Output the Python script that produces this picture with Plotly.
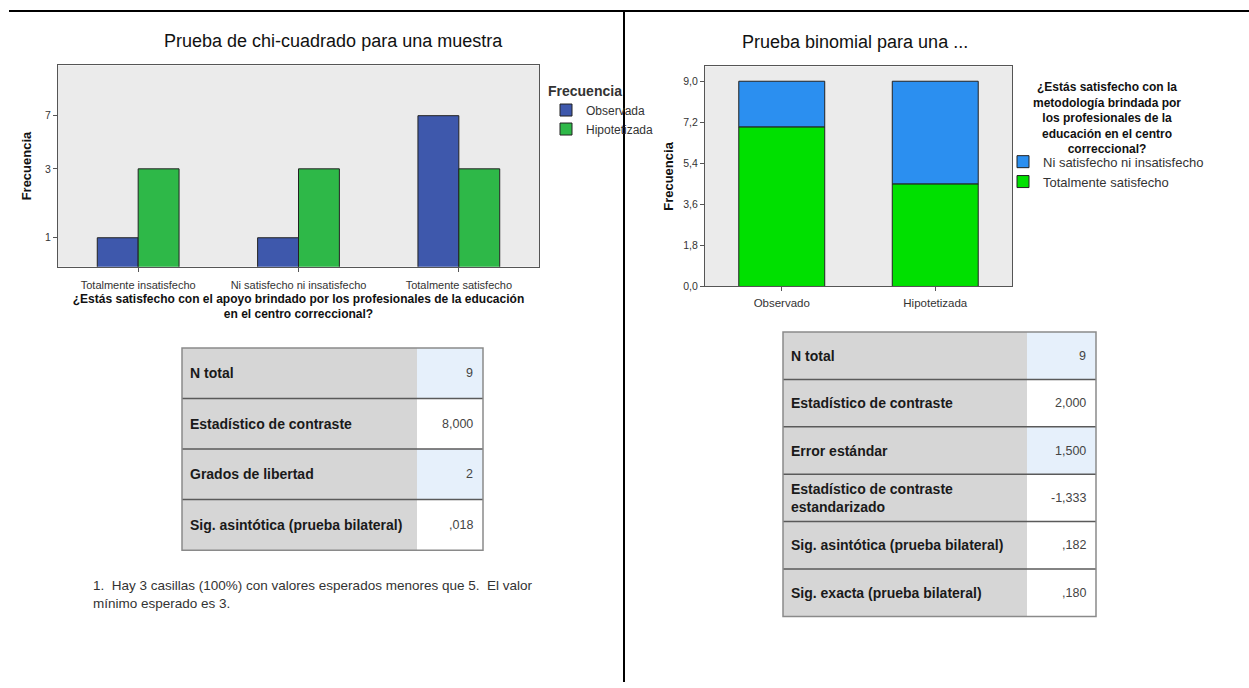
import plotly.graph_objects as go

W, H = 1249, 688
FONT = "Liberation Sans, Arial, sans-serif"

# --- datos: chi-cuadrado (izquierda)
cat_chi = ["Totalmente insatisfecho", "Ni satisfecho ni insatisfecho", "Totalmente satisfecho"]
observada = [1, 1, 7]
hipotetizada = [3, 3, 3]
ticks_chi = [1, 3, 7]

# --- datos: binomial (derecha)
cat_bin = ["Observado", "Hipotetizada"]
tot_satisfecho = [7, 4.5]
ni_satisfecho = [2, 4.5]
ticks_bin = [0, 1.8, 3.6, 5.4, 7.2, 9.0]

# --- tablas
chi_labels = ["N total", "Estadístico de contraste", "Grados de libertad",
              "Sig. asintótica (prueba bilateral)"]
chi_values = ["9", "8,000", "2", ",018"]
bin_labels = ["N total", "Estadístico de contraste", "Error estándar",
              "Estadístico de contraste<br>estandarizado",
              "Sig. asintótica (prueba bilateral)", "Sig. exacta (prueba bilateral)"]
bin_values = ["9", "2,000", "1,500", "-1,333", ",182", ",180"]

BLUE_CHI, GREEN_CHI = "#3e58ac", "#2eb848"
BLUE_BIN, GREEN_BIN = "#2b8ff0", "#00e000"
CELL_BLUE = "#e6f0fb"
LABEL_GREY = "#d6d6d6"


def px(x):
    return x / W


def py(y):
    return 1 - y / H


fig = go.Figure()

fig.add_trace(go.Bar(
    x=cat_chi, y=observada, name="Observada", xaxis="x", yaxis="y",
    marker=dict(color=BLUE_CHI, line=dict(color="#222", width=1)),
    legend="legend",
))
fig.add_trace(go.Bar(
    x=cat_chi, y=hipotetizada, name="Hipotetizada", xaxis="x", yaxis="y",
    marker=dict(color=GREEN_CHI, line=dict(color="#222", width=1)),
    legend="legend",
))

fig.add_trace(go.Bar(
    x=cat_bin, y=tot_satisfecho, name="Totalmente satisfecho",
    xaxis="x2", yaxis="y2", offsetgroup="b", width=0.56, legendrank=2,
    marker=dict(color=GREEN_BIN, line=dict(color="#222", width=1)),
    legend="legend2",
))
fig.add_trace(go.Bar(
    x=cat_bin, y=ni_satisfecho, base=tot_satisfecho, name="Ni satisfecho ni insatisfecho",
    xaxis="x2", yaxis="y2", offsetgroup="b", width=0.56, legendrank=1,
    marker=dict(color=BLUE_BIN, line=dict(color="#222", width=1)),
    legend="legend2",
))

shapes = [
    dict(type="line", xref="paper", yref="paper", x0=px(9), x1=1, y0=py(11), y1=py(11),
         line=dict(color="black", width=2)),
    dict(type="line", xref="paper", yref="paper", x0=px(624), x1=px(624), y0=py(11), y1=0,
         line=dict(color="black", width=2)),
]
annotations = []


def add_table(labels, values, fills, x0, x1, y0, split, row_h):
    for i, (lab, val, fill) in enumerate(zip(labels, values, fills)):
        top = y0 + i * row_h
        bot = top + row_h
        shapes.append(dict(type="rect", xref="paper", yref="paper", layer="below",
                           x0=px(x0), x1=px(split), y0=py(bot), y1=py(top),
                           fillcolor=LABEL_GREY, line=dict(width=0)))
        shapes.append(dict(type="rect", xref="paper", yref="paper", layer="below",
                           x0=px(split), x1=px(x1), y0=py(bot), y1=py(top),
                           fillcolor=fill, line=dict(width=0)))
        if i < len(labels) - 1:
            shapes.append(dict(type="line", xref="paper", yref="paper",
                               x0=px(x0), x1=px(x1), y0=py(bot), y1=py(bot),
                               line=dict(color="#5a5a5a", width=1.5)))
        mid = (top + bot) / 2
        annotations.append(dict(text="<b>%s</b>" % lab, xref="paper", yref="paper",
                                x=px(x0 + 6), y=py(mid), xanchor="left", yanchor="middle",
                                align="left", showarrow=False,
                                font=dict(size=14, color="#1a1a1a")))
        annotations.append(dict(text=val, xref="paper", yref="paper",
                                x=px(x1 - 8), y=py(mid), xanchor="right", yanchor="middle",
                                showarrow=False, font=dict(size=12.5, color="#444")))
    shapes.append(dict(type="rect", xref="paper", yref="paper",
                       x0=px(x0), x1=px(x1), y0=py(y0 + row_h * len(labels)), y1=py(y0),
                       line=dict(color="#8a8a8a", width=1.5)))


add_table(chi_labels, chi_values, [CELL_BLUE, "white", CELL_BLUE, "white"],
          182, 483, 351, 417, 51)
add_table(bin_labels, bin_values,
          [CELL_BLUE, "white", CELL_BLUE, "white", "white", "white"],
          783, 1096, 335, 1027, 47.8)

annotations += [
    dict(text="Prueba de chi-cuadrado para una muestra", xref="paper", yref="paper",
         x=px(334), y=py(41), xanchor="center", yanchor="middle", showarrow=False,
         font=dict(size=18, color="#111")),
    dict(text="Prueba binomial para una ...", xref="paper", yref="paper",
         x=px(855), y=py(42), xanchor="center", yanchor="middle", showarrow=False,
         font=dict(size=18, color="#111")),
    dict(text="<b>¿Estás satisfecho con la<br>metodología brindada por<br>los profesionales de la<br>educación en el centro<br>correccional?</b>",
         xref="paper", yref="paper", x=px(1107), y=py(79), xanchor="center", yanchor="top",
         align="center", showarrow=False, font=dict(size=12, color="#111")),
    dict(text="1.  Hay 3 casillas (100%) con valores esperados menores que 5.  El valor<br>mínimo esperado es 3.",
         xref="paper", yref="paper", x=px(91), y=py(581), xanchor="left", yanchor="top",
         align="left", showarrow=False, font=dict(size=13.5, color="#333")),
]

axis_common = dict(showline=True, linecolor="#555", mirror=True, ticks="outside",
                   ticklen=4, tickcolor="#555", showgrid=False, zeroline=False)

fig.update_layout(
    width=W, height=H,
    margin=dict(l=0, r=0, t=0, b=0),
    paper_bgcolor="white", plot_bgcolor="#ebebeb",
    font=dict(family=FONT, color="#111"),
    separators=",.",
    barmode="group", bargap=0.49, bargroupgap=0,
    showlegend=True,
    xaxis=dict(domain=[px(58), px(539)], anchor="y", range=[-0.5, 2.5],
               tickfont=dict(size=11, color="#333"), ticklabelstandoff=4,
               title=dict(text="<b>¿Estás satisfecho con el apoyo brindado por los profesionales de la educación<br>en el centro correccional?</b>",
                          font=dict(size=12), standoff=4),
               **axis_common),
    yaxis=dict(domain=[py(269), py(66)], anchor="x", type="log",
               range=[-0.2, 1.193], tickvals=ticks_chi, ticktext=[str(t) for t in ticks_chi],
               tickfont=dict(size=10.5, color="#333"),
               title=dict(text="<b>Frecuencia</b>", font=dict(size=13), standoff=10),
               **axis_common),
    xaxis2=dict(domain=[px(705), px(1012)], anchor="y2", range=[-0.5, 1.5],
                tickfont=dict(size=11.5, color="#333"), ticklabelstandoff=2,
                **axis_common),
    yaxis2=dict(domain=[py(289), py(67)], anchor="x2", range=[0, 9.65],
                tickvals=ticks_bin, tickformat=".1f",
                tickfont=dict(size=10.5, color="#333"),
                title=dict(text="<b>Frecuencia</b>", font=dict(size=13), standoff=6),
                **axis_common),
    legend=dict(x=px(546), y=py(78), xanchor="left", yanchor="top",
                bgcolor="rgba(0,0,0,0)", itemwidth=30, tracegroupgap=0,
                title=dict(text="<b>Frecuencia</b>", font=dict(size=14)),
                font=dict(size=12, color="#333")),
    legend2=dict(x=px(1003), y=py(148), xanchor="left", yanchor="top",
                 bgcolor="rgba(0,0,0,0)", itemwidth=30, tracegroupgap=0,
                 font=dict(size=13, color="#333")),
    shapes=shapes,
    annotations=annotations,
)

fig.write_html("out.html", config={"displayModeBar": False},
               post_script="document.body.style.margin='0';")
